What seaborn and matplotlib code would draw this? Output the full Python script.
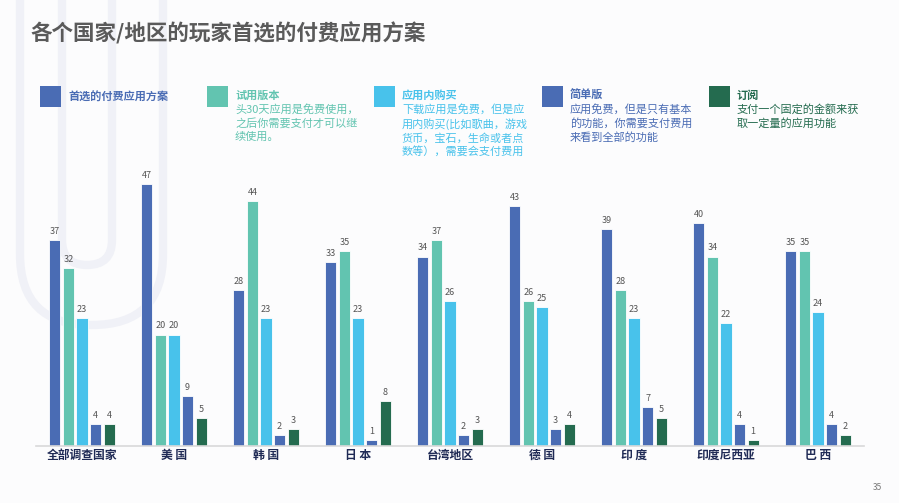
import matplotlib
matplotlib.use("Agg")
import matplotlib.pyplot as plt
import pandas as pd
import seaborn as sns
from matplotlib.patches import FancyBboxPatch, Rectangle
from matplotlib.transforms import Affine2D

# data
regions = ["全部调查国家", "美 国", "韩 国", "日 本", "台湾地区", "德 国", "印 度", "印度尼西亚", "巴 西"]
plans = ["首选的付费应用方案", "试用版本", "应用内购买", "简单版", "订阅"]
preferred = [37, 47, 28, 33, 34, 43, 39, 40, 35]
trial = [32, 20, 44, 35, 37, 26, 28, 34, 35]
in_app = [23, 20, 23, 23, 26, 25, 23, 22, 24]
lite = [4, 9, 2, 1, 2, 3, 7, 4, 4]
subscription = [4, 5, 3, 8, 3, 4, 5, 1, 2]
descriptions = [
    "",
    "头30天应用是免费使用，\n之后你需要支付才可以继\n续使用。",
    "下载应用是免费，但是应\n用内购买(比如歌曲，游戏\n货币，宝石，生命或者点\n数等），需要会支付费用",
    "应用免费，但是只有基本\n的功能，你需要支付费用\n来看到全部的功能",
    "支付一个固定的金额来获\n取一定量的应用功能",
]
colors = ["#4a6cb4", "#62c4b0", "#48c2eb", "#4a6cb4", "#246b4f"]

rows = []
for plan, vals in zip(plans, [preferred, trial, in_app, lite, subscription]):
    for r, v in zip(regions, vals):
        rows.append({"region": r, "plan": plan, "value": v})
df = pd.DataFrame(rows)

sns.set_style("white")
plt.rcParams["font.family"] = ["Noto Sans CJK SC", "DejaVu Sans"]

W, H = 899, 503
fig = plt.figure(figsize=(W / 100, H / 100), dpi=100)
fig.patch.set_facecolor("#fcfcfd")

# pixel transform (origin top-left)
px = Affine2D().scale(1, -1).translate(0, H)

# faint background decoration
for x0, x1, y1, r in [(20, 163, 325, 71), (62, 112, 265, 25)]:
    p = FancyBboxPatch((x0, -300), x1 - x0, y1 + 300,
                       boxstyle=f"round,pad=0,rounding_size={r}",
                       facecolor="none", edgecolor="#f0f1f7", linewidth=6,
                       transform=px, zorder=-5)
    fig.patches.append(p)

ax = fig.add_axes([36 / W, (H - 446) / H, 828 / W, (446 - 167.5) / H])
ax.set_facecolor("none")
ax.set_zorder(2)
sns.barplot(data=df, x="region", y="value", hue="plan",
            palette=dict(zip(plans, colors)), saturation=1, width=0.74, gap=0.16,
            edgecolor="white", linewidth=0.6, legend=False, ax=ax)
for c in ax.containers:
    ax.bar_label(c, padding=3, fontsize=6.5, color="#555555")

ax.set_xlim(-0.5, 8.5)
ax.set_ylim(0, 50)
ax.set_xlabel("")
ax.set_ylabel("")
ax.set_yticks([])
for s in ["top", "right", "left"]:
    ax.spines[s].set_visible(False)
ax.spines["bottom"].set_color("#d9d9d9")
ax.spines["bottom"].set_linewidth(1.2)
ax.tick_params(axis="x", length=0, pad=2)
for lab in ax.get_xticklabels():
    lab.set_fontsize(8.5)
    lab.set_fontweight("bold")
    lab.set_color("#1f2a55")

# title
fig.text(30 / W, 1 - 33 / H, "各个国家/地区的玩家首选的付费应用方案",
         fontsize=15.5, fontweight="bold", color="#5a5a5a", va="center", ha="left")

# custom legend
sq_x = [40, 207, 374, 542, 709]
for i, (plan, col, desc) in enumerate(zip(plans, colors, descriptions)):
    fig.patches.append(Rectangle((sq_x[i], 86), 21, 21, facecolor=col,
                                 edgecolor="none", transform=px, zorder=3))
    tx = sq_x[i] + 28
    if desc:
        fig.text(tx / W, 1 - 95 / H, plan, fontsize=8, fontweight="bold",
                 color=col, va="center", ha="left")
        fig.text(tx / W, 1 - 104 / H, desc, fontsize=8, color=col,
                 va="top", ha="left", linespacing=1.35)
    else:
        fig.text(tx / W, 1 - 97 / H, plan, fontsize=8, fontweight="bold",
                 color=col, va="center", ha="left")

fig.text(877 / W, 1 - 487 / H, "35", fontsize=6, color="#777777",
         ha="center", va="center")

fig.savefig("out.png", dpi=100, facecolor=fig.get_facecolor())
